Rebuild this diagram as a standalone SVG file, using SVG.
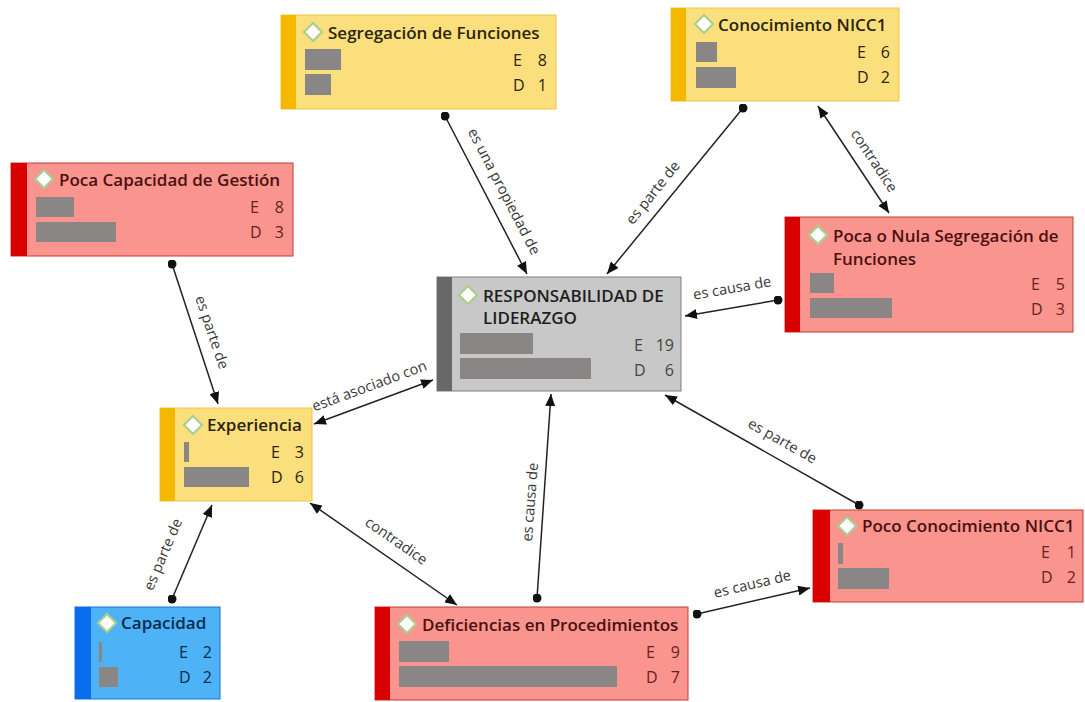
<svg xmlns="http://www.w3.org/2000/svg" width="1085" height="702" viewBox="0 0 1085 702">
<style>
text{font-family:"Open Sans","Noto Sans","DejaVu Sans",sans-serif}
.t{font-size:17px;font-weight:600}
.n{font-size:16px}
.l{font-size:14.6px;fill:#383838;text-anchor:middle;dominant-baseline:central}
.bar{fill:#8b8686}
.dia{fill:#fff;stroke:#a9cf8e;stroke-width:2.2}
.y .bg{fill:#fadf7c;stroke:#e9c545;stroke-width:1}
.y .st{fill:#f5b800}
.y text{fill:#2b2410}
.r .bg{fill:#f9958e;stroke:#c63a34;stroke-width:1}
.r .st{fill:#d90000}
.r text{fill:#4a1010}
.r .n{fill:#6a2020}
.g .bg{fill:#c8c8c8;stroke:#7f7f7f;stroke-width:1}
.g .st{fill:#686868}
.g text{fill:#1e1e1e}
.g .n{fill:#444}
.b .bg{fill:#4db3f6;stroke:#1f70d0;stroke-width:1}
.b .st{fill:#0a6deb}
.b text{fill:#0b2a4e}
.e line{stroke:#222;stroke-width:1.5;fill:none}
</style>
<defs>
<marker id="arr" viewBox="0 0 12 10" refX="12" refY="5" markerWidth="12" markerHeight="10" markerUnits="userSpaceOnUse" orient="auto-start-reverse"><path d="M0,0 L12,5 L0,10 z" fill="#111"/></marker>
<marker id="dot" viewBox="0 0 10 10" refX="5" refY="5" markerWidth="9" markerHeight="9" markerUnits="userSpaceOnUse"><circle cx="5" cy="5" r="5" fill="#111"/></marker>
</defs>
<rect width="1085" height="702" fill="#fff"/>

<g id="connectors" class="e">
<line x1="445" y1="116" x2="527" y2="274" marker-start="url(#dot)" marker-end="url(#arr)"/>
<line x1="743" y1="108" x2="607" y2="274" marker-start="url(#dot)" marker-end="url(#arr)"/>
<line x1="818" y1="106" x2="889" y2="213" marker-start="url(#arr)" marker-end="url(#arr)"/>
<line x1="778" y1="300" x2="685" y2="316" marker-start="url(#dot)" marker-end="url(#arr)"/>
<line x1="172" y1="264" x2="218" y2="404" marker-start="url(#dot)" marker-end="url(#arr)"/>
<line x1="314" y1="424" x2="433" y2="380" marker-start="url(#arr)" marker-end="url(#arr)"/>
<line x1="172" y1="599" x2="212" y2="505" marker-start="url(#dot)" marker-end="url(#arr)"/>
<line x1="310" y1="503" x2="457" y2="605" marker-start="url(#arr)" marker-end="url(#arr)"/>
<line x1="537" y1="598" x2="551" y2="394" marker-start="url(#dot)" marker-end="url(#arr)"/>
<line x1="859" y1="505" x2="665" y2="395" marker-start="url(#dot)" marker-end="url(#arr)"/>
<line x1="697" y1="614" x2="810" y2="588" marker-start="url(#dot)" marker-end="url(#arr)"/>
<text class="l" x="505" y="191" transform="rotate(62.6 505 191)">es una propiedad de</text>
<text class="l" x="652" y="192" transform="rotate(-51.3 652 192)">es parte de</text>
<text class="l" x="875" y="160" transform="rotate(56.4 875 160)">contradice</text>
<text class="l" x="732" y="287" transform="rotate(-9.8 732 287)">es causa de</text>
<text class="l" x="213" y="332" transform="rotate(71.3 213 332)">es parte de</text>
<text class="l" x="369" y="385" transform="rotate(-20.2 369 385)">está asociado con</text>
<text class="l" x="162" y="554" transform="rotate(-66.9 162 554)">es parte de</text>
<text class="l" x="397" y="540" transform="rotate(34.8 397 540)">contradice</text>
<text class="l" x="529" y="502" transform="rotate(-85.5 529 502)">es causa de</text>
<text class="l" x="783" y="440" transform="rotate(29.6 783 440)">es parte de</text>
<text class="l" x="752" y="583" transform="rotate(-13.4 752 583)">es causa de</text>
</g>

<g id="n-segregacion" class="y">
<rect class="bg" x="281" y="15" width="275" height="94"/>
<rect class="st" x="281" y="15" width="15" height="94"/>
<path class="dia" d="M313,23 L322,32 L313,41 L304,32 Z"/>
<text class="t" x="328" y="39">Segregación de Funciones</text>
<rect class="bar" x="305" y="49" width="36" height="21"/>
<rect class="bar" x="305" y="74" width="26" height="21"/>
<text class="n" x="513" y="66">E</text><text class="n" x="547" y="66" text-anchor="end">8</text>
<text class="n" x="513" y="91">D</text><text class="n" x="547" y="91" text-anchor="end">1</text>
</g>

<g id="n-conocimiento" class="y">
<rect class="bg" x="671" y="8" width="228" height="93"/>
<rect class="st" x="671" y="8" width="15" height="93"/>
<path class="dia" d="M704,15 L713,24 L704,33 L695,24 Z"/>
<text class="t" x="718" y="31">Conocimiento NICC1</text>
<rect class="bar" x="696" y="42" width="21" height="20"/>
<rect class="bar" x="696" y="67" width="40" height="21"/>
<text class="n" x="857" y="58">E</text><text class="n" x="890" y="58" text-anchor="end">6</text>
<text class="n" x="857" y="83">D</text><text class="n" x="890" y="83" text-anchor="end">2</text>
</g>

<g id="n-pocacapacidad" class="r">
<rect class="bg" x="11" y="163" width="282" height="93"/>
<rect class="st" x="11" y="163" width="16" height="93"/>
<path class="dia" d="M44,170 L53,179 L44,188 L35,179 Z"/>
<text class="t" x="59" y="186">Poca Capacidad de Gestión</text>
<rect class="bar" x="36" y="197" width="38" height="20"/>
<rect class="bar" x="36" y="222" width="80" height="20"/>
<text class="n" x="250" y="213">E</text><text class="n" x="284" y="213" text-anchor="end">8</text>
<text class="n" x="250" y="238">D</text><text class="n" x="284" y="238" text-anchor="end">3</text>
</g>

<g id="n-pocanula" class="r">
<rect class="bg" x="785" y="217" width="288" height="115"/>
<rect class="st" x="785" y="217" width="15" height="115"/>
<path class="dia" d="M818,226 L827,235 L818,244 L809,235 Z"/>
<text class="t" x="833" y="242">Poca o Nula Segregación de</text>
<text class="t" x="833" y="265">Funciones</text>
<rect class="bar" x="810" y="273" width="24" height="20"/>
<rect class="bar" x="810" y="298" width="82" height="20"/>
<text class="n" x="1031" y="290">E</text><text class="n" x="1065" y="290" text-anchor="end">5</text>
<text class="n" x="1031" y="315">D</text><text class="n" x="1065" y="315" text-anchor="end">3</text>
</g>

<g id="n-responsabilidad" class="g">
<rect class="bg" x="437" y="277" width="244" height="114"/>
<rect class="st" x="437" y="277" width="15" height="114"/>
<path class="dia" d="M468,286 L477,295 L468,304 L459,295 Z"/>
<text class="t" x="483" y="302">RESPONSABILIDAD DE</text>
<text class="t" x="483" y="324">LIDERAZGO</text>
<rect class="bar" x="460" y="333" width="73" height="21"/>
<rect class="bar" x="460" y="358" width="131" height="21"/>
<text class="n" x="634" y="351">E</text><text class="n" x="674" y="351" text-anchor="end">19</text>
<text class="n" x="634" y="376">D</text><text class="n" x="674" y="376" text-anchor="end">6</text>
</g>

<g id="n-experiencia" class="y">
<rect class="bg" x="160" y="408" width="152" height="93"/>
<rect class="st" x="160" y="408" width="15" height="93"/>
<path class="dia" d="M193,416 L202,425 L193,434 L184,425 Z"/>
<text class="t" x="207" y="431">Experiencia</text>
<rect class="bar" x="184" y="442" width="5" height="20"/>
<rect class="bar" x="184" y="467" width="65" height="20"/>
<text class="n" x="271" y="458">E</text><text class="n" x="304" y="458" text-anchor="end">3</text>
<text class="n" x="271" y="483">D</text><text class="n" x="304" y="483" text-anchor="end">6</text>
</g>

<g id="n-capacidad" class="b">
<rect class="bg" x="75" y="607" width="145" height="92"/>
<rect class="st" x="75" y="607" width="16" height="92"/>
<path class="dia" d="M107,614 L116,623 L107,632 L98,623 Z"/>
<text class="t" x="121" y="629">Capacidad</text>
<rect class="bar" x="99" y="642" width="3" height="20"/>
<rect class="bar" x="99" y="667" width="19" height="20"/>
<text class="n" x="179" y="658">E</text><text class="n" x="212" y="658" text-anchor="end">2</text>
<text class="n" x="179" y="683">D</text><text class="n" x="212" y="683" text-anchor="end">2</text>
</g>

<g id="n-deficiencias" class="r">
<rect class="bg" x="375" y="607" width="313" height="93"/>
<rect class="st" x="375" y="607" width="15" height="93"/>
<path class="dia" d="M407,615 L416,624 L407,633 L398,624 Z"/>
<text class="t" x="422" y="631">Deficiencias en Procedimientos</text>
<rect class="bar" x="399" y="641" width="50" height="21"/>
<rect class="bar" x="399" y="666" width="218" height="21"/>
<text class="n" x="646" y="658">E</text><text class="n" x="680" y="658" text-anchor="end">9</text>
<text class="n" x="646" y="683">D</text><text class="n" x="680" y="683" text-anchor="end">7</text>
</g>

<g id="n-pococonocimiento" class="r">
<rect class="bg" x="813" y="510" width="270" height="92"/>
<rect class="st" x="813" y="510" width="17" height="92"/>
<path class="dia" d="M847,517 L856,526 L847,535 L838,526 Z"/>
<text class="t" x="862" y="532">Poco Conocimiento NICC1</text>
<rect class="bar" x="838" y="543" width="5" height="21"/>
<rect class="bar" x="838" y="568" width="51" height="21"/>
<text class="n" x="1041" y="558">E</text><text class="n" x="1076" y="558" text-anchor="end">1</text>
<text class="n" x="1041" y="583">D</text><text class="n" x="1076" y="583" text-anchor="end">2</text>
</g>
</svg>
